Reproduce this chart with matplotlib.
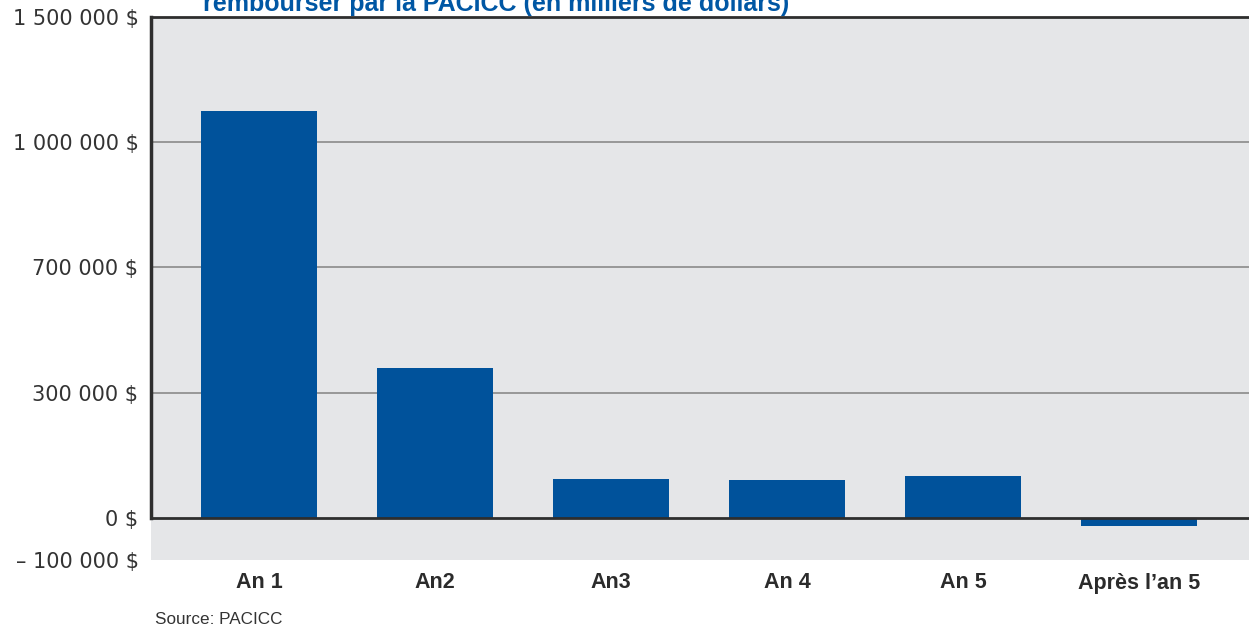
import numpy as np
import matplotlib
matplotlib.use("Agg")
import matplotlib.pyplot as plt
from matplotlib.lines import Line2D

plt.rcParams['font.family'] = ['Liberation Sans', 'DejaVu Sans']

# montants à rembourser par année (en milliers de dollars)
annees = ["An 1", "An2", "An3", "An 4", "An 5", "Après l\u2019an 5"]
montants = [1124000, 380000, 93600, 91200, 100800, -19000]

# graduations de l'axe vertical et leurs libellés
graduations = [-100000, 0, 300000, 700000, 1000000, 1500000]
libelles = ["\u2013 100 000 $", "0 $", "300 000 $", "700 000 $", "1 000 000 $", "1 500 000 $"]

# l'axe place les graduations à intervalles réguliers
pos_grad = [-0.336, 0, 1, 2, 3, 4]


def vers_axe(v):
    return np.interp(v, graduations, pos_grad, left=-0.336, right=4)


def depuis_axe(p):
    return np.interp(p, pos_grad, graduations)


bleu = "#00529b"
gris_fond = "#e5e6e8"
texte = "#2b2b2b"

fig = plt.figure(figsize=(12.49, 6.28), dpi=100)
ax = fig.add_axes([151 / 1249, 68 / 628, 1098 / 1249, 543 / 628])
ax.set_facecolor(gris_fond)
ax.set_yscale("function", functions=(vers_axe, depuis_axe))

x = np.arange(len(annees))
ax.bar(x, montants, width=0.66, color=bleu, zorder=3)

ax.set_xlim(-0.614, 5.625)
ax.set_ylim(-100000, 1500000)

# lignes de grille horizontales
for g in [300000, 700000, 1000000]:
    ax.axhline(g, color="#8a8a8a", lw=1.2, zorder=1)
ax.axhline(0, color="#2e2e2e", lw=2, zorder=4)

for s in ["right", "bottom", "left"]:
    ax.spines[s].set_visible(False)
ax.spines["top"].set_color("#2e2e2e")
ax.spines["top"].set_linewidth(2)
# axe gauche seulement au-dessus de zéro
ax.add_line(Line2D([0, 0], [0, 1500000], transform=ax.get_yaxis_transform(),
                   color="#2e2e2e", lw=2.5, clip_on=False, zorder=5))

ax.set_yticks(graduations)
ax.set_yticklabels(libelles, fontsize=15, color="#333333", family="DejaVu Sans")
ax.yaxis.set_minor_locator(matplotlib.ticker.NullLocator())
ax.set_xticks(x)
ax.set_xticklabels(annees, fontsize=15.5, fontweight="bold", color=texte)
ax.tick_params(axis="y", length=0, pad=9)
ax.tick_params(axis="x", length=0, pad=9)

fig.text(203 / 1249, 1 - 11 / 628, "rembourser par la PACICC (en milliers de dollars)",
         fontsize=18, fontweight="bold", color="#0057a4", va="baseline", ha="left")
fig.text(155 / 1249, 1 - 624 / 628, "Source: PACICC", fontsize=12.3, color="#333333",
         va="baseline", ha="left")

fig.savefig("out.png", dpi=100)
